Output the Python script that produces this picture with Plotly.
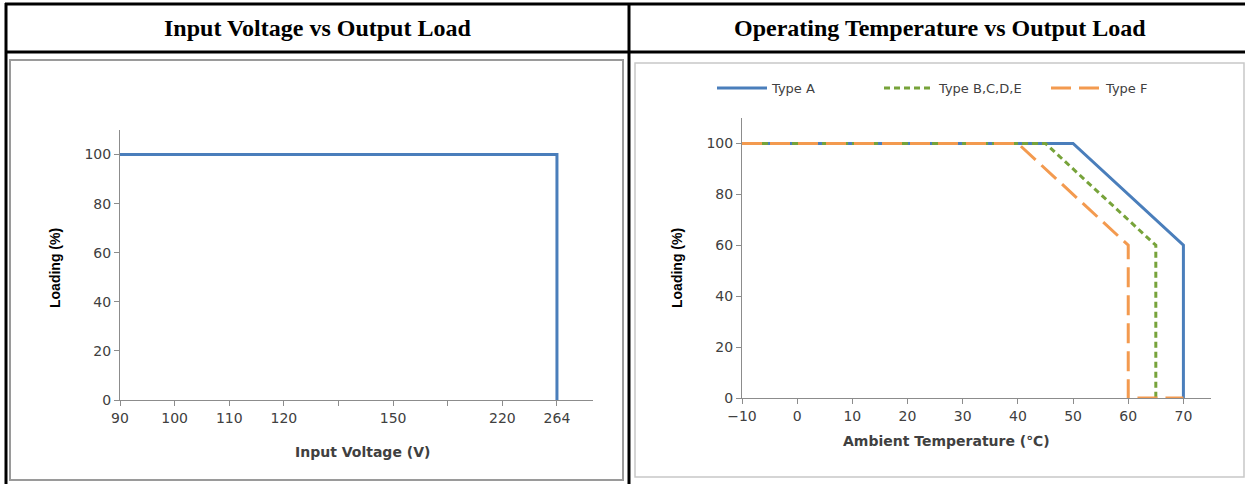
import plotly.graph_objects as go

W, H = 1245, 484

# ---------------- data ----------------
header_titles = ["Input Voltage vs Output Load", "Operating Temperature vs Output Load"]

# Left chart: input voltage (category-like axis)
voltage_labels = ["90", "100", "110", "120", "", "150", "", "220", "264"]
line_voltage = ["90", "264", "264"]
line_loading = [100, 100, 0]
load_ticks = [0, 20, 40, 60, 80, 100]

# Right chart: ambient temperature
temp_ticks = [-10, 0, 10, 20, 30, 40, 50, 60, 70]
type_a_temp = [-10, 50, 70, 70]
type_a_load = [100, 100, 60, 0]
type_b_temp = [-10, 45, 65, 65]
type_b_load = [100, 100, 60, 0]
type_f_temp = [-10, 40, 60, 60, 70]
type_f_load = [100, 100, 60, 0, 0]

BLUE = "#4A7EBB"
GREEN = "#77A33A"
ORANGE = "#F39A4F"
AXIS = "#8C8C8C"
TICKFONT = dict(family="DejaVu Sans", size=14, color="#404040")

def X(px):
    return px / W

def Y(py):
    return 1 - py / H

positions = list(range(len(voltage_labels)))
line_x = [voltage_labels.index(v) for v in line_voltage]

fig = go.Figure()

fig.add_trace(go.Scatter(x=line_x, y=line_loading, mode="lines",
                         line=dict(color=BLUE, width=3),
                         xaxis="x", yaxis="y", showlegend=False))

fig.add_trace(go.Scatter(x=type_a_temp, y=type_a_load, mode="lines", name="Type A",
                         line=dict(color=BLUE, width=3),
                         xaxis="x2", yaxis="y2"))
fig.add_trace(go.Scatter(x=type_b_temp, y=type_b_load, mode="lines", name="Type B,C,D,E",
                         line=dict(color=GREEN, width=3, dash="6px,4px"),
                         xaxis="x2", yaxis="y2"))
fig.add_trace(go.Scatter(x=type_f_temp, y=type_f_load, mode="lines", name="Type F",
                         line=dict(color=ORANGE, width=3, dash="20px,8px"),
                         xaxis="x2", yaxis="y2"))

axis_common = dict(showline=True, linecolor=AXIS, linewidth=1, ticks="outside",
                   ticklen=5, tickcolor=AXIS, showgrid=False, zeroline=False,
                   tickfont=TICKFONT, fixedrange=True, automargin=False)

fig.update_layout(
    width=W, height=H,
    margin=dict(l=0, r=0, t=0, b=0, autoexpand=False),
    paper_bgcolor="white", plot_bgcolor="white",
    xaxis=dict(domain=[X(120), X(593)], range=[0, 8.66], tickmode="array",
               tickvals=positions, ticktext=voltage_labels, anchor="y", **axis_common),
    yaxis=dict(domain=[Y(400), Y(130)], range=[0, 110], tickmode="array",
               tickvals=load_ticks, anchor="x", **axis_common),
    xaxis2=dict(domain=[X(742), X(1211)], range=[-10, 75], tickmode="array",
                tickvals=temp_ticks, anchor="y2", **axis_common),
    yaxis2=dict(domain=[Y(398), Y(118)], range=[0, 110], tickmode="array",
                tickvals=load_ticks, anchor="x2", **axis_common),
    legend=dict(orientation="h", x=X(712), xanchor="left", y=Y(88), yanchor="middle",
                font=dict(family="DejaVu Sans", size=13, color="#404040"),
                bgcolor="rgba(0,0,0,0)", itemwidth=50, tracegroupgap=0,
                entrywidth=102, entrywidthmode="pixels"),
)

shapes = []
# table borders
shapes.append(dict(type="line", xref="paper", yref="paper", x0=X(5), x1=1, y0=Y(4), y1=Y(4),
                   line=dict(color="black", width=3)))
shapes.append(dict(type="line", xref="paper", yref="paper", x0=X(5), x1=1, y0=Y(52), y1=Y(52),
                   line=dict(color="black", width=3)))
shapes.append(dict(type="line", xref="paper", yref="paper", x0=X(6), x1=X(6), y0=Y(3), y1=0,
                   line=dict(color="black", width=3)))
shapes.append(dict(type="line", xref="paper", yref="paper", x0=X(629), x1=X(629), y0=Y(3), y1=0,
                   line=dict(color="black", width=3)))
# chart frames
shapes.append(dict(type="rect", xref="paper", yref="paper", x0=X(10), x1=X(623), y0=Y(480), y1=Y(60),
                   line=dict(color="#9A9A9A", width=2)))
shapes.append(dict(type="rect", xref="paper", yref="paper", x0=X(635), x1=X(1244), y0=Y(477), y1=Y(63),
                   line=dict(color="#C8C8C8", width=1.5)))
fig.update_layout(shapes=shapes)

def ann(text, xp, yp, font, angle=0):
    return dict(text=text, x=X(xp), y=Y(yp), xref="paper", yref="paper",
                xanchor="center", yanchor="middle", showarrow=False,
                textangle=angle, font=font)

title_font = dict(family="Liberation Serif", size=24, color="black")
axis_title_font = dict(family="DejaVu Sans", size=14, color="#404040")
ytitle_font = dict(family="Liberation Sans Narrow, Liberation Sans", size=14, color="black")

annotations = [
    ann("<b>" + header_titles[0] + "</b>", 317, 28, title_font),
    ann("<b>" + header_titles[1] + "</b>", 940, 28, title_font),
    ann("<b>Input Voltage (V)</b>", 362, 452, axis_title_font),
    ann("<b>Ambient Temperature (℃)</b>", 946, 441, axis_title_font),
    ann("<b>Loading (%)</b>", 55, 268, ytitle_font, -90),
    ann("<b>Loading (%)</b>", 677, 268, ytitle_font, -90),
]
fig.update_layout(annotations=annotations)

fig.write_html("out.html", config={"displayModeBar": False},
               post_script="document.body.style.margin='0px';")
